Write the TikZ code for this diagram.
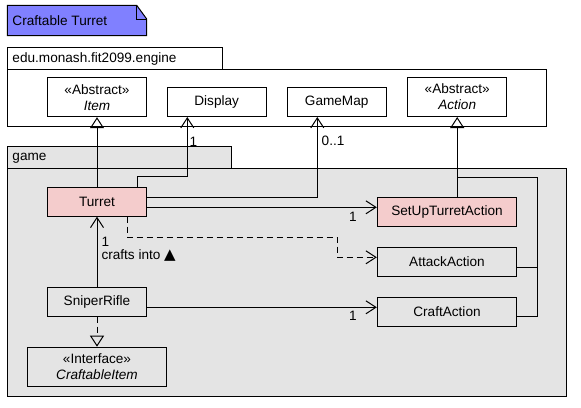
\documentclass[tikz,border=0pt]{standalone}
\usepackage{fontspec}
\setmainfont{Liberation Sans}
\newfontfamily\dejavu{DejaVu Sans}
\usetikzlibrary{arrows.meta}
\definecolor{notefill}{RGB}{128,128,255}
\definecolor{pkgfill}{RGB}{228,228,228}
\definecolor{pinkfill}{RGB}{244,204,204}
\tikzset{
  every node/.style={font=\fontsize{13.6pt}{16pt}\selectfont, inner sep=0pt},
  cls/.style={draw=black, line width=1pt, align=center, minimum width=99.4pt, minimum height=29pt},
  clstall/.style={cls, minimum height=39pt},
  wide/.style={minimum width=139.4pt},
  pink/.style={fill=pinkfill},
  lbl/.style={anchor=west},
  conn/.style={line width=1pt, draw=black},
  assoc/.style={conn, -{Straight Barb[length=10pt,width=13pt,line width=1pt]}},
  gen/.style={conn, -{Triangle[open,length=11pt,width=14pt,line width=1pt]}},
  dep/.style={conn, dash pattern=on 6pt off 4pt, -{Straight Barb[length=10pt,width=13pt,line width=1pt]}},
  real/.style={conn, dash pattern=on 6pt off 4pt, -{Triangle[open,length=11pt,width=14pt,line width=1pt]}},
  pkg/.style={draw=black, line width=1pt},
}
\begin{document}
\begin{tikzpicture}[x=1pt,y=-1pt]
\useasboundingbox (0,0) rectangle (581,407);
% note
\draw[pkg, fill=notefill] (7.3,5.3) -- (136.7,5.3) -- (146.7,19) -- (146.7,35.7) -- (7.3,35.7) -- cycle;
\draw[line width=1pt] (136.7,5.3) -- (136.7,19) -- (146.7,19);
\node[lbl] (note) at (12.3,20.5) {Craftable Turret};
% engine package
\draw[pkg, fill=white] (7.3,47.7) rectangle (222.7,69);
\draw[pkg, fill=white] (7.3,69) rectangle (546.7,126);
\node[lbl] (enginelbl) at (12.3,59) {edu.monash.fit2099.engine};
% game package
\draw[pkg, fill=pkgfill] (7.3,146.7) rectangle (231.7,168.3);
\draw[pkg, fill=pkgfill] (7.3,168.3) rectangle (566,396);
\node[lbl] (gamelbl) at (12.3,158.5) {game};
% engine classes
\node[clstall] (Item) at (97,97.2) {«Abstract»\\\textit{Item}};
\node[cls] (Display) at (216.7,102) {Display};
\node[cls] (GameMap) at (336.7,102) {GameMap};
\node[clstall] (Action) at (457.2,97) {«Abstract»\\\textit{Action}};
% game classes
\node[cls, pink] (Turret) at (97,201.7) {Turret};
\node[cls, wide, pink] (SetUp) at (447,211.7) {SetUpTurretAction};
\node[cls, wide] (Attack) at (447,261.7) {AttackAction};
\node[cls, wide] (Craft) at (447,311.7) {CraftAction};
\node[cls] (Sniper) at (97,301.7) {SniperRifle};
\node[clstall, wide] (CItem) at (97,366.7) {«Interface»\\\textit{CraftableItem}};
% connectors
\draw[gen] (Turret.north) -- (Item.south);
\draw[assoc] ([xshift=40.3pt]Turret.north) -- ++(0,-10) -| ([xshift=-29.4pt]Display.south);
\node[lbl] (l1) at (189.5,142) {1};
\draw[assoc] ([yshift=4.4pt]Turret.east) -| ([xshift=-19.4pt]GameMap.south);
\node[lbl] (l2) at (321.5,141) {0..1};
\draw[assoc] ([yshift=-5.6pt]Turret.east) -- ([yshift=4.4pt]SetUp.west);
\node[lbl] (l3) at (349,216.5) {1};
\coordinate (J) at (537.3,177.3);
\draw[gen] (Action.south |- SetUp.north) -- (Action.south);
\draw[conn] ([yshift=-5pt]Craft.east) -| (J) -- (Action.south |- J);
\draw[conn] ([yshift=-5.6pt]Attack.east) -- ++(20.6,0);
\coordinate (D1) at (337.3,237.3);
\draw[dep] ([xshift=30.3pt]Turret.south) |- (D1) |- ([yshift=4.4pt]Attack.west);
\draw[assoc] (Sniper.north) -- (Turret.south);
\node[lbl] (l4) at (101.5,241.5) {1};
\node[lbl] (l5) at (101.3,255.5) {crafts into {\dejavu\fontsize{15pt}{16pt}\selectfont ▲}};
\draw[assoc] ([yshift=-5.6pt]Sniper.east) -- ([yshift=4.4pt]Craft.west);
\node[lbl] (l6) at (349,316) {1};
\draw[real] (Sniper.south) -- (CItem.north);
\end{tikzpicture}
\end{document}
